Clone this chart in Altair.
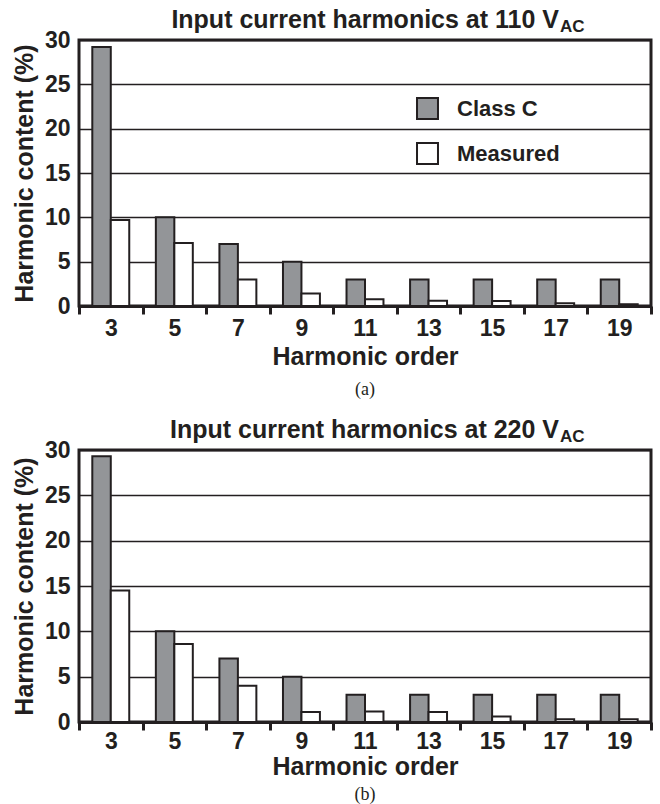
import altair as alt
import pandas as pd

# Harmonic orders and their content (% of fundamental)
harmonics = [3, 5, 7, 9, 11, 13, 15, 17, 19]
series_names = ["Class C", "Measured"]

class_c_110 = [29.2, 10, 7, 5, 3, 3, 3, 3, 3]
measured_110 = [9.7, 7.1, 3.0, 1.4, 0.75, 0.6, 0.55, 0.3, 0.2]

class_c_220 = [29.3, 10, 7, 5, 3, 3, 3, 3, 3]
measured_220 = [14.5, 8.6, 4.0, 1.1, 1.15, 1.1, 0.6, 0.3, 0.3]

y_ticks = [0, 5, 10, 15, 20, 25, 30]

FONT = "Liberation Sans Narrow, Liberation Sans, Arial, sans-serif"
SERIF = "Liberation Serif, Times New Roman, serif"
INK = "#231f20"
GREY = "#939598"
W = 572


def panel(class_c, measured, volts, tag, h, tag_dy, label_pad, xtitle_pad):
    df = pd.DataFrame({
        "Harmonic": harmonics * 2,
        "Series": [series_names[0]] * len(harmonics) + [series_names[1]] * len(harmonics),
        "Value": class_c + measured,
    })

    bars = alt.Chart(df).mark_bar(stroke=INK, strokeWidth=2).encode(
        x=alt.X(
            "Harmonic:O",
            sort=harmonics,
            scale=alt.Scale(paddingInner=0, paddingOuter=0),
            axis=alt.Axis(
                title="Harmonic order",
                labelAngle=0,
                tickBand="extent",
                ticks=True,
                tickSize=8,
                tickWidth=3,
                tickColor=INK,
                domain=True,
                domainColor=INK,
                domainWidth=3,
                labelFont=FONT,
                labelFontSize=23,
                labelFontWeight="bold",
                labelColor=INK,
                labelPadding=label_pad,
                titleFont=FONT,
                titleFontSize=25,
                titleFontWeight="bold",
                titleColor=INK,
                titlePadding=xtitle_pad,
            ),
        ),
        xOffset=alt.XOffset(
            "Series:N",
            scale=alt.Scale(domain=series_names, paddingInner=0, paddingOuter=0.72),
        ),
        y=alt.Y(
            "Value:Q",
            scale=alt.Scale(domain=[0, 30], nice=False),
            axis=alt.Axis(
                title="Harmonic content (%)",
                values=y_ticks,
                grid=True,
                gridColor=INK,
                gridWidth=1.6,
                ticks=False,
                domain=False,
                labelFont=FONT,
                labelFontSize=23,
                labelFontWeight="bold",
                labelColor=INK,
                labelPadding=9,
                titleFont=FONT,
                titleFontSize=25,
                titleFontWeight="bold",
                titleColor=INK,
                titlePadding=7,
            ),
        ),
        fill=alt.Fill(
            "Series:N",
            scale=alt.Scale(domain=series_names, range=[GREY, "#ffffff"]),
            legend=alt.Legend(
                title=None,
                orient="none",
                legendX=337,
                legendY=57,
                symbolType="square",
                symbolSize=440,
                symbolStrokeColor=INK,
                symbolStrokeWidth=2,
                labelFont=FONT,
                labelFontSize=22,
                labelFontWeight="bold",
                labelColor=INK,
                labelOffset=18,
                rowPadding=16,
            ),
        ),
    )

    title_df = pd.DataFrame({"main": [f"Input current harmonics at {volts} V"], "sub": ["AC"]})
    title_main = alt.Chart(title_df).mark_text(
        align="right", baseline="alphabetic", font=FONT, fontSize=25,
        fontWeight="bold", color=INK,
    ).encode(text="main:N", x=alt.value(480), y=alt.value(-12))
    title_sub = alt.Chart(title_df).mark_text(
        align="left", baseline="alphabetic", font=FONT, fontSize=17,
        fontWeight="bold", color=INK,
    ).encode(text="sub:N", x=alt.value(481), y=alt.value(-8))

    tag_df = pd.DataFrame({"tag": [tag]})
    caption = alt.Chart(tag_df).mark_text(
        align="center", baseline="middle", font=SERIF, fontSize=18, color=INK,
    ).encode(text="tag:N", x=alt.value(W / 2), y=alt.value(h + tag_dy))

    return alt.layer(bars, title_main, title_sub, caption).properties(width=W, height=h)


top = panel(class_c_110, measured_110, 110, "(a)", 266, 84, 3, 4)
bottom = panel(class_c_220, measured_220, 220, "(b)", 272, 73, 0, 1)

chart = alt.vconcat(top, bottom, spacing=15).properties(
    padding={"left": 10, "top": 6, "right": 2, "bottom": 2},
    background="white",
).configure_view(
    stroke=INK, strokeWidth=3,
).configure_concat(spacing=15)

chart.save("out.html", embed_options={"renderer": "svg", "actions": False})
